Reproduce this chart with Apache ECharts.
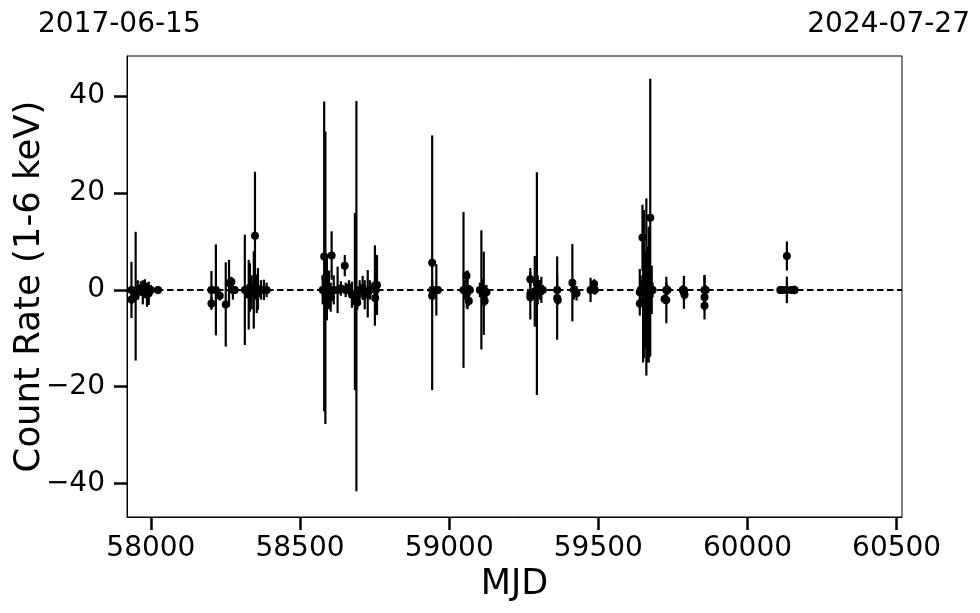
<!DOCTYPE html>
<html>
<head>
<meta charset="utf-8">
<script src="https://cdn.jsdelivr.net/npm/echarts@6/dist/echarts.min.js"></script>
<style>html,body{margin:0;padding:0;background:#fff}#c{width:980px;height:613px}</style>
</head>
<body>
<div id="c"></div>
<script>
// MJD of each observation
const mjd = [
  57935, 57935, 57949, 57956, 57966, 57973, 57980, 57987, 57993, 58000, 58024,
  58203, 58203, 58218, 58231, 58251, 58262, 58270, 58275, 58281,
  58315, 58328, 58332, 58338, 58345, 58349, 58355, 58359, 58369, 58379, 58388,
  58576, 58581, 58585, 58586, 58590, 58597, 58603, 58606, 58613, 58626, 58637, 58650, 58653, 58664, 58674,
  58684, 58689, 58692, 58700, 58710, 58717, 58727, 58734, 58751, 58752, 58754, 58758,
  58943, 58943, 58943, 58957, 58962,
  59048, 59052, 59058, 59059, 59062, 59066, 59069, 59103, 59108, 59113, 59116, 59119, 59125,
  59272, 59272, 59272, 59287, 59294, 59297, 59304, 59309, 59314,
  59362, 59362, 59364,
  59413, 59418, 59427,
  59474, 59486, 59488,
  59639, 59639, 59642, 59648, 59650, 59653, 59657, 59661, 59664, 59665, 59669, 59672, 59674, 59679, 59682,
  59722, 59728, 59728, 59732, 59783, 59787, 59787, 59789, 59856, 59856, 59856, 59860,
  60110, 60118, 60132, 60132, 60148, 60158
];
// count rate (1-6 keV)
const rate = [
  0.0, -2.0, -1.3, 0.0, 0.3, -0.5, 0.4, -1.0, -0.7, 0.0, 0.0,
  -2.8, 0.0, 0.0, -1.2, -3.0, 1.4, 1.7, 0.0, 0.0,
  0.0, -1.0, 0.5, -0.5, 0.0, 11.2, -0.8, 0.2, 0.0, 0.0, 0.0,
  0.0, 6.9, 2.5, -1.0, 0.5, 0.0, -1.5, 7.1, 0.0, 0.0, 0.3, 5.0, 0.0, 0.5, -1.0,
  -2.4, -1.3, -2.6, 0.0, 0.4, -1.0, -0.8, 0.0, 0.9, -1.7, 0.0, 1.0,
  5.6, -1.2, 0.0, 0.0, 0.0,
  0.0, 0.0, 2.9, -0.8, 0.0, -2.3, 0.0, 0.0, 0.0, 0.3, -0.7, -2.3, -0.5,
  2.2, -1.5, -0.8, -0.3, 1.3, 0.0, 0.0, 0.0, 0.0,
  -1.7, 0.0, -2.1,
  1.5, 0.0, -0.7,
  0.0, 1.2, 0.0,
  -0.5, -2.8, 0.0, 10.8, 0.0, 1.2, -2.0, 0.6, -3.0, 0.0, -1.0, -0.2, 14.9, 0.0, 0.0,
  -1.9, -2.1, 0.0, 0.0, 0.0, -0.5, 0.0, -1.0, -1.5, -3.3, 0.0, 0.0,
  0.0, 0.0, 7.0, 0.0, 0.0, 0.0
];
// 1-sigma error
const err = [
  5.8, 1.0, 13.3, 2.0, 1.5, 2.5, 1.8, 2.5, 2.4, 1.0, 0.5,
  1.3, 3.9, 9.4, 1.0, 8.7, 4.8, 1.0, 2.0, 0.8,
  11.4, 7.2, 5.0, 3.5, 8.0, 13.2, 4.0, 4.3, 2.0, 2.1, 1.5,
  3.0, 32.0, 30.2, 5.0, 6.8, 4.0, 3.0, 5.0, 3.0, 4.8, 1.5, 2.2, 1.5, 1.5, 2.7,
  18.3, 40.3, 1.5, 2.0, 2.5, 3.0, 4.9, 2.0, 8.3, 1.0, 2.0, 6.2,
  26.3, 1.0, 2.0, 5.3, 0.8,
  16.1, 2.0, 1.0, 3.0, 4.0, 1.0, 1.0, 1.5, 12.3, 2.0, 8.6, 1.0, 1.5,
  1.5, 1.0, 5.3, 7.3, 23.0, 3.0, 2.0, 2.7, 1.0,
  8.6, 3.0, 1.0,
  8.0, 2.0, 1.5,
  2.5, 1.0, 1.0,
  4.8, 1.0, 3.0, 6.8, 15.0, 15.3, 10.0, 18.3, 12.0, 8.0, 14.0, 13.3, 28.7, 5.0, 1.5,
  1.0, 4.8, 1.5, 1.0, 1.0, 3.4, 2.0, 1.0, 4.6, 1.0, 3.0, 1.0,
  0.8, 0.5, 3.0, 2.75, 0.8, 0.9
];
const xTicks = [58000, 58500, 59000, 59500, 60000, 60500];
const yTicks = [-40, -20, 0, 20, 40];
const dateStart = '2017-06-15';
const dateEnd = '2024-07-27';

const pts = mjd.map((m, i) => [m, rate[i], err[i]]);
const F = 'DejaVu Sans';
const chart = echarts.init(document.getElementById('c'), null, {renderer: 'canvas'});
chart.setOption({
  animation: false,
  backgroundColor: '#fff',
  grid: {left: 127, right: 78, top: 56, bottom: 96, show: true, borderColor: '#000', borderWidth: 1,
    backgroundColor: 'transparent', containLabel: false, outerBoundsMode: 'none'},
  xAxis: {
    type: 'value', min: 57920, max: 60518,
    name: 'MJD', nameLocation: 'middle', nameGap: 50, nameMoveOverlap: false,
    nameTextStyle: {fontFamily: F, fontSize: 35, color: '#000'},
    axisLine: {show: true, onZero: false, lineStyle: {color: '#000', width: 1}},
    axisTick: {show: true, length: 13, lineStyle: {color: '#000', width: 2.5}, customValues: xTicks},
    axisLabel: {fontFamily: F, fontSize: 28, color: '#000', margin: 18, customValues: xTicks,
      formatter: v => String(v)},
    splitLine: {show: false}
  },
  yAxis: {
    type: 'value', min: -46.9, max: 48.3,
    name: 'Count Rate (1-6 keV)', nameLocation: 'middle', nameGap: 79, nameMoveOverlap: false,
    nameTextStyle: {fontFamily: F, fontSize: 35.5, color: '#000'},
    axisLine: {show: true, onZero: false, lineStyle: {color: '#000', width: 1}},
    axisTick: {show: true, length: 13, lineStyle: {color: '#000', width: 2.5}, customValues: yTicks},
    axisLabel: {fontFamily: F, fontSize: 28, color: '#000', margin: 22, customValues: yTicks,
      formatter: v => (v < 0 ? '\u2212' + Math.abs(v) : String(v))},
    splitLine: {show: false}
  },
  graphic: [
    {type: 'text', left: 38, top: 11, style: {text: dateStart, font: '28px "DejaVu Sans"', fill: '#000'}},
    {type: 'text', right: 10, top: 11, style: {text: dateEnd, font: '28px "DejaVu Sans"', fill: '#000'}}
  ],
  series: [
    {
      type: 'custom', clip: true, data: pts,
      renderItem: (params, api) => {
        const x = api.value(0), y = api.value(1), e = api.value(2);
        const a = api.coord([x, y + e]), b = api.coord([x, y - e]);
        return {type: 'line', shape: {x1: a[0], y1: a[1], x2: b[0], y2: b[1]}, style: {stroke: '#000', lineWidth: 2.2}};
      },
      z: 2
    },
    {
      type: 'scatter', data: pts, symbol: 'circle', symbolSize: 8,
      itemStyle: {color: '#000', opacity: 1}, z: 3,
      markLine: {
        silent: true, symbol: ['none', 'none'], label: {show: false},
        lineStyle: {color: '#000', type: [6.5, 3.5], width: 2, opacity: 1},
        data: [{yAxis: 0}]
      }
    }
  ]
});
</script>
</body>
</html>
